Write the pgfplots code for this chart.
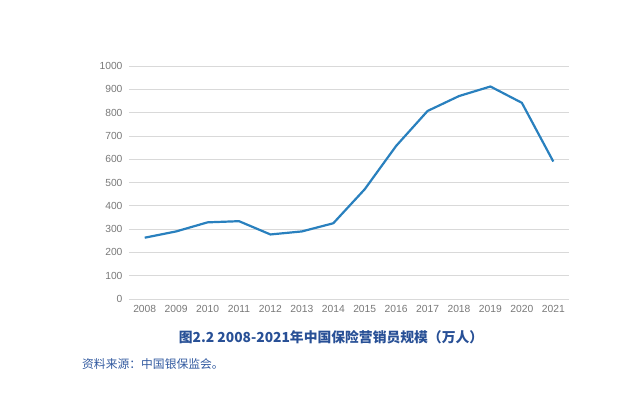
\documentclass[border=0pt]{standalone}
\usepackage{pgfplots}
\pgfplotsset{compat=1.18}
\usepackage{fontspec}
\setmainfont{Liberation Sans}
\newfontfamily\cjk{Noto Sans CJK SC}
\definecolor{linec}{RGB}{41,128,190}
\definecolor{gridc}{RGB}{217,217,217}
\definecolor{tickc}{RGB}{120,120,120}
\definecolor{titlec}{RGB}{40,80,150}
\definecolor{srcc}{RGB}{50,90,160}
\begin{document}
\begin{tikzpicture}
\path (-129pt,-95pt) rectangle (511pt,299pt);
\begin{axis}[
  at={(0,0)}, anchor=south west,
  scale only axis, width=440pt, height=233pt,
  xmin=-0.5, xmax=13.5, ymin=0, ymax=1000,
  xtick={0,...,13},
  xticklabels={2008,2009,2010,2011,2012,2013,2014,2015,2016,2017,2018,2019,2020,2021},
  ytick={0,100,...,1000},
  axis line style={draw=none},
  major tick length=0pt,
  ymajorgrids, grid style={gridc, line width=0.8pt},
  tick label style={font=\fontsize{10.3}{12}\selectfont, text=tickc},
  /pgf/number format/assume math mode=true,
  yticklabel style={/pgf/number format/1000 sep={}, xshift=-3pt},
  xticklabel style={yshift=-3pt},
  clip=false,
]
\addplot[linec, line width=2.2pt, line join=round] coordinates {
(0,263) (1,290) (2,329) (3,334) (4,277) (5,290) (6,325) (7,471) (8,657) (9,807) (10,871) (11,912) (12,842) (13,590)
};
\end{axis}
\node[text=titlec, font=\cjk\bfseries\fontsize{13.8}{16}\selectfont] at (202pt,-38pt) {图2.2 2008-2021年中国保险营销员规模（万人）};
\node[anchor=west, text=srcc, font=\cjk\fontsize{11.8}{13}\selectfont, inner sep=0pt] at (-47pt,-65pt) {资料来源：中国银保监会。};
\end{tikzpicture}
\end{document}
